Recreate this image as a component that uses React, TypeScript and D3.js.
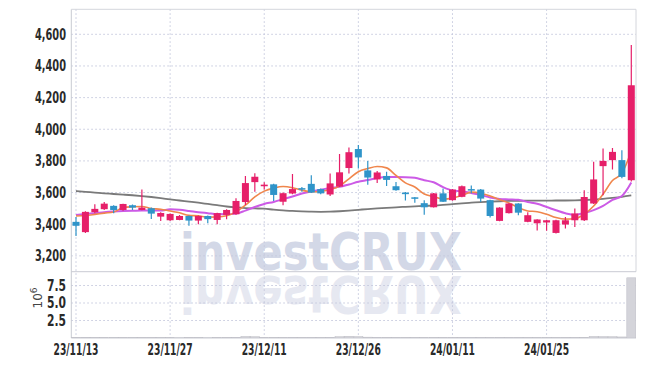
import React from 'react';
import * as d3 from 'd3';

const tickIdx = [0, 10, 20, 30, 40, 50];
const tickLabels = ['23/11/13', '23/11/27', '23/12/11', '23/12/26', '24/01/11', '24/01/25'];
const priceTicks = [3200, 3400, 3600, 3800, 4000, 4200, 4400, 4600];
const volTicks = [2.5, 5.0, 7.5];

const opens = [3415,3350,3476,3495,3516,3490,3520,3490,3501,3448,3425,3427,3452,3423,3452,3427,3459,3463,3540,3666,3640,3652,3542,3594,3628,3655,3622,3588,3638,3755,3875,3740,3683,3705,3640,3600,3570,3533,3507,3595,3552,3573,3622,3619,3552,3421,3470,3531,3415,3406,3411,3345,3398,3425,3425,3531,3767,3805,3805,3678];
const highs = [3445,3482,3526,3541,3520,3530,3525,3620,3505,3475,3467,3458,3455,3455,3455,3472,3495,3564,3705,3722,3665,3655,3600,3718,3635,3710,3625,3720,3843,3885,3900,3800,3737,3732,3667,3603,3572,3552,3598,3625,3622,3645,3645,3622,3555,3508,3533,3533,3475,3432,3428,3428,3446,3499,3615,3794,3878,3882,3868,4532];
const lows = [3325,3345,3470,3490,3470,3485,3490,3488,3433,3421,3420,3425,3390,3400,3406,3400,3432,3460,3522,3605,3620,3547,3520,3590,3605,3598,3590,3578,3635,3720,3752,3650,3660,3642,3612,3550,3535,3460,3505,3540,3548,3570,3595,3540,3442,3418,3468,3457,3412,3360,3358,3342,3373,3383,3420,3528,3583,3746,3690,3670];
const closes = [3390,3478,3497,3530,3490,3528,3505,3505,3467,3471,3465,3452,3423,3452,3432,3470,3490,3547,3660,3700,3650,3585,3596,3622,3622,3600,3595,3658,3728,3855,3822,3695,3727,3680,3615,3590,3562,3507,3595,3542,3619,3640,3618,3562,3452,3505,3531,3473,3457,3430,3425,3425,3425,3468,3572,3683,3800,3857,3699,4278];
const volumes = [0.06,0.08,0.05,0.05,0.04,0.05,0.04,0.07,0.05,0.04,0.04,0.03,0.05,0.04,0.03,0.05,0.06,0.09,0.22,0.18,0.08,0.07,0.06,0.08,0.05,0.07,0.05,0.09,0.18,0.25,0.2,0.12,0.08,0.07,0.06,0.05,0.05,0.06,0.06,0.05,0.05,0.06,0.04,0.05,0.07,0.06,0.05,0.05,0.05,0.05,0.04,0.06,0.05,0.06,0.1,0.22,0.2,0.18,0.15,8.6];
const ma5 = [3452,3455,3462,3470,3477,3505,3510,3512,3499,3495,3483,3472,3456,3453,3445,3446,3453,3478,3520,3573,3609,3628,3638,3631,3615,3605,3607,3619,3641,3687,3732,3752,3765,3756,3708,3661,3635,3591,3574,3559,3565,3581,3603,3596,3578,3555,3534,3505,3484,3479,3463,3442,3432,3435,3463,3515,3590,3676,3722,3863];
const ma10 = [3459,3465,3470,3476,3480,3483,3485,3486,3487,3486,3494,3491,3484,3476,3470,3464,3463,3467,3486,3509,3528,3541,3558,3575,3594,3607,3618,3629,3636,3651,3668,3679,3692,3698,3698,3697,3693,3678,3665,3634,3613,3608,3597,3585,3569,3560,3557,3554,3540,3529,3509,3488,3469,3459,3471,3489,3516,3554,3578,3663];
const ma60 = [3610,3605,3600,3595,3591,3587,3583,3578,3572,3565,3557,3550,3543,3536,3528,3520,3512,3506,3502,3500,3498,3492,3487,3484,3481,3479,3478,3479,3482,3486,3491,3496,3500,3503,3507,3510,3513,3516,3518,3522,3527,3532,3536,3540,3543,3545,3547,3548,3549,3549,3549,3550,3550,3551,3553,3556,3560,3566,3573,3582];

const W = 645, H = 366;
const L = 71.3, R = 636, PT = 9.3, PB = 271.7, VT = 272, VB = 338;
const UP = '#e61f69', DOWN = '#2f94c9';
const GRID = '#c3c7dc';
const FONT = '"DejaVu Sans Condensed", "Liberation Sans Narrow", sans-serif';

export default function App() {
  const n = closes.length;
  const x = d3.scaleLinear().domain([-0.5, n - 0.5]).range([L, R]);
  const y = d3.scaleLinear().domain([3100, 4758]).range([PB, PT]);
  const yv = d3.scaleLinear().domain([0, 9.43]).range([VB, VT]);
  const bw = 7;
  const idx = d3.range(n);
  const line = (arr: number[]) =>
    d3.line<number>().x((_, i) => x(i)).y((d) => y(d)).curve(d3.curveMonotoneX)(arr) || '';

  return (
    <svg width={W} height={H} style={{ position: 'absolute', left: 0, top: 0, background: '#fff' }}>
      <defs>
        <clipPath id="pclip"><rect x={L} y={PT} width={R - L} height={PB - PT} /></clipPath>
        <clipPath id="vclip"><rect x={L} y={VT} width={R - L} height={VB - VT} /></clipPath>
      </defs>
      {/* watermark */}
      <g clipPath="url(#pclip)">
        <text x={180} y={270} textLength={282} lengthAdjust="spacingAndGlyphs"
          fontFamily='"DejaVu Sans", sans-serif' fontWeight="bold" fontSize={52} fill="#d3d8e7">investCRUX</text>
      </g>
      <g clipPath="url(#vclip)">
        <g transform={`translate(0, ${2 * 273}) scale(1,-1)`}>
          <text x={180} y={270} textLength={282} lengthAdjust="spacingAndGlyphs"
            fontFamily='"DejaVu Sans", sans-serif' fontWeight="bold" fontSize={52} fill="#e6e8f1">investCRUX</text>
        </g>
      </g>
      {/* grid */}
      {priceTicks.map((t) => (
        <line key={'pg' + t} x1={L} x2={R} y1={y(t)} y2={y(t)} stroke={GRID} strokeDasharray="1.5,2.5" />
      ))}
      {volTicks.map((t) => (
        <line key={'vg' + t} x1={L} x2={R} y1={yv(t)} y2={yv(t)} stroke={GRID} strokeDasharray="1.5,2.5" />
      ))}
      {tickIdx.map((t) => (
        <line key={'xg' + t} x1={x(t)} x2={x(t)} y1={PT} y2={VB} stroke={GRID} strokeDasharray="1.5,2.5" />
      ))}
      {/* frame */}
      <line x1={L} x2={L} y1={PT} y2={VB} stroke="#c9cbd3" />
      <line x1={L} x2={R} y1={PT} y2={PT} stroke="#d4d6dc" />
      <line x1={R} x2={R} y1={PT} y2={PB} stroke="#d4d6dc" />
      <line x1={L} x2={R} y1={PB} y2={PB} stroke="#c9cbd3" />
      <line x1={L} x2={R} y1={VB} y2={VB} stroke="#c9cbd3" />
      {/* volume */}
      <g clipPath="url(#vclip)">
        {idx.map((i) => (
          <rect key={'v' + i} x={x(i) - 4.5} width={9} y={yv(volumes[i])} height={VB - yv(volumes[i])}
            fill="#d4d4da" stroke="#bcbcc4" strokeWidth={0.5} />
        ))}
      </g>
      {/* moving averages */}
      <g clipPath="url(#pclip)" fill="none">
        <path d={line(ma60)} stroke="#7a7a7a" strokeWidth={1.8} />
        <path d={line(ma10)} stroke="#cc5ae6" strokeWidth={2} />
        <path d={line(ma5)} stroke="#f0864c" strokeWidth={1.6} />
      </g>
      {/* candles */}
      <g clipPath="url(#pclip)">
        {idx.map((i) => {
          const up = closes[i] >= opens[i];
          const c = up ? UP : DOWN;
          const top = y(Math.max(opens[i], closes[i]));
          const bot = y(Math.min(opens[i], closes[i]));
          return (
            <g key={'c' + i}>
              <line x1={x(i)} x2={x(i)} y1={y(highs[i])} y2={y(lows[i])} stroke={c} strokeWidth={1.2} />
              <rect x={x(i) - bw / 2} width={bw} y={top} height={Math.max(1.5, bot - top)} fill={c} />
            </g>
          );
        })}
      </g>
      {/* axes labels */}
      {priceTicks.map((t) => (
        <text key={'pl' + t} x={66} y={y(t)} dy="0.36em" textAnchor="end" fontFamily={FONT}
          fontWeight={600} fontSize={15} fill="#2a2a2a" textLength={31} lengthAdjust="spacingAndGlyphs">{d3.format(',')(t)}</text>
      ))}
      {volTicks.map((t) => (
        <text key={'vl' + t} x={66} y={yv(t)} dy="0.36em" textAnchor="end" fontFamily={FONT}
          fontWeight={600} fontSize={15} fill="#2a2a2a" textLength={19} lengthAdjust="spacingAndGlyphs">{d3.format('.1f')(t)}</text>
      ))}
      <text transform={`translate(42, 298) rotate(-90)`} textAnchor="middle" fontFamily='"DejaVu Sans", sans-serif'
        fontSize={12} fill="#444">10<tspan dy={-5} fontSize={9}>6</tspan></text>
      {tickIdx.map((t, k) => (
        <text key={'xl' + t} x={x(t)} y={355} textAnchor="middle" fontFamily={FONT}
          fontWeight={600} fontSize={15} fill="#2a2a2a" textLength={45} lengthAdjust="spacingAndGlyphs">{tickLabels[k]}</text>
      ))}
    </svg>
  );
}
